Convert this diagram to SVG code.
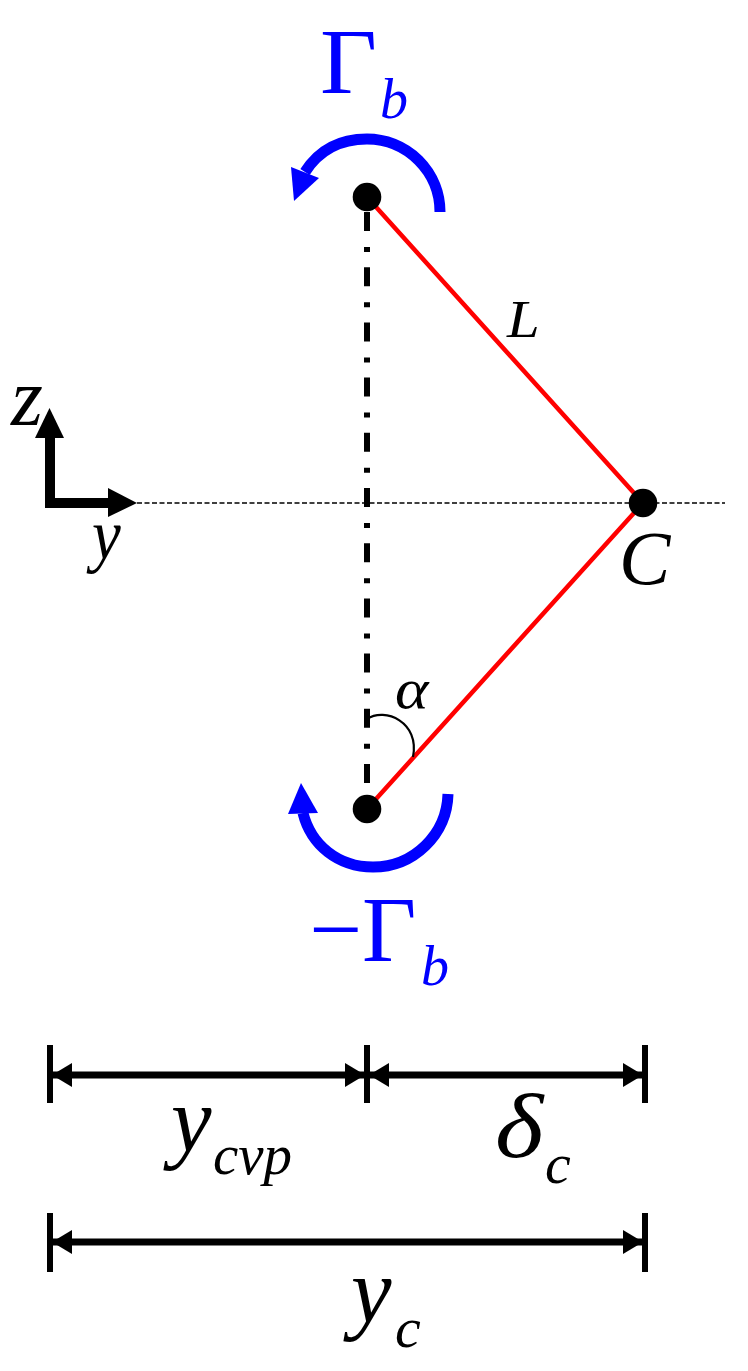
<svg xmlns="http://www.w3.org/2000/svg" width="748" height="1371" viewBox="0 0 748 1371">
<style>
text{font-family:"Liberation Serif","Times New Roman",serif;fill:#000}
.i{font-style:italic}
.b{fill:#00f}
.blue{fill:none;stroke:#00f;stroke-width:11}
.red{stroke:#f00;stroke-width:4.500;fill:none}
.dim{stroke:#000;stroke-width:6;fill:none}
.dimh{stroke:#000;stroke-width:7;fill:none}
</style>
<defs>
<path id="dimhead" d="M0 0L20 -12L20 12Z"/>
</defs>
<rect width="748" height="1371" fill="#fff"/>
<g id="connectors">
<path d="M137 503H725" stroke="#000" stroke-width="1.500" stroke-dasharray="5 2.500" fill="none"/>
<path d="M367 212V783" stroke="#000" stroke-width="6" stroke-dasharray="19 16 5 15.200" fill="none"/>
<path class="red" d="M367 197L643 503L367 809"/>
<path d="M367 719C385 707 420 722 413 757" fill="none" stroke="#000" stroke-width="2.200"/>
<path class="blue" d="M440 212A73 73 0 0 0 367 139C340 139 319 150 305 172"/>
<path fill="#00f" d="M291 167L294 201L319 178Z"/>
<path class="blue" d="M448 794A75 75 0 0 1 373 867C338 867 311 845 303 813"/>
<path fill="#00f" d="M301 783L288 814L318 813Z"/>
</g>
<g id="axes">
<path d="M50 508V435M45 503H110" stroke="#000" stroke-width="10" fill="none"/>
<path d="M49.500 408L35 438H64Z"/>
<path d="M137 503L108 488V517Z"/>
<text class="i" x="11" y="425" font-size="82">z</text>
<text class="i" transform="translate(92 559) scale(.9 1)" font-size="72">y</text>
</g>
<g id="node-top"><circle cx="367" cy="197" r="14.300"/></g>
<g id="node-bottom"><circle cx="367" cy="809" r="14.300"/></g>
<g id="node-c"><circle cx="643" cy="503" r="14.300"/></g>
<g id="labels">
<text class="b" transform="translate(320 93) scale(1.050 1)" font-size="94">Γ</text>
<text class="b i" x="380" y="118" font-size="56">b</text>
<text class="b" x="309" y="961" font-size="94">−Γ</text>
<text class="b i" x="421" y="985" font-size="56">b</text>
<text class="i" transform="translate(507 337) scale(1.130 1)" font-size="52">L</text>
<text class="i" x="619" y="584" font-size="77">C</text>
<text class="i" transform="translate(395 708) scale(1.100 1)" font-size="58">α</text>
</g>
<g id="dimensions">
<path class="dim" d="M50 1045V1103M367 1045V1103M645 1045V1103M50 1213V1272M645 1213V1272"/>
<path class="dimh" d="M50 1075H645M50 1242H645"/>
<use href="#dimhead" x="52" y="1075"/>
<use href="#dimhead" transform="translate(365 1075) scale(-1 1)"/>
<use href="#dimhead" x="369" y="1075"/>
<use href="#dimhead" transform="translate(643 1075) scale(-1 1)"/>
<use href="#dimhead" x="52" y="1242"/>
<use href="#dimhead" transform="translate(643 1242) scale(-1 1)"/>
<text class="i" transform="translate(171 1151) scale(.98 1)" font-size="93">y</text>
<text class="i" x="213" y="1174" font-size="57">cvp</text>
<text class="i" transform="translate(495 1157) scale(1.130 1)" font-size="92">δ</text>
<text class="i" x="545" y="1183" font-size="58">c</text>
<text class="i" transform="translate(351 1322) scale(.98 1)" font-size="93">y</text>
<text class="i" x="395" y="1347" font-size="58">c</text>
</g>
</svg>
